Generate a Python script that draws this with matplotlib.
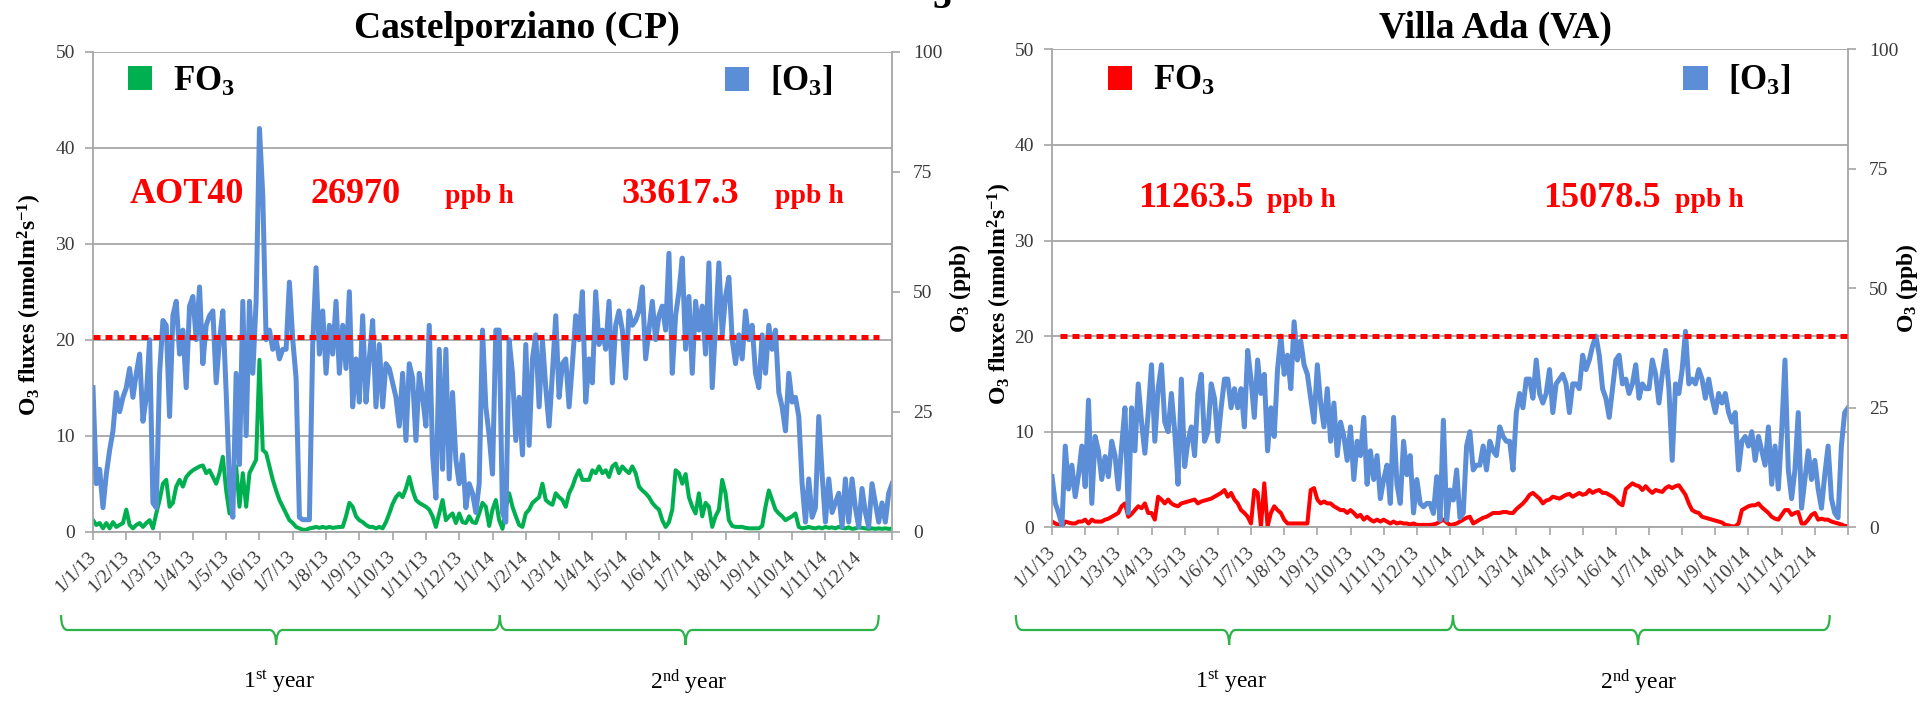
import numpy as np
import matplotlib
matplotlib.use("Agg")
import matplotlib.pyplot as plt
import matplotlib.transforms as mtransforms
from matplotlib.patches import Patch, PathPatch
from matplotlib.path import Path

plt.rcParams['font.family'] = ['Liberation Serif', 'DejaVu Serif']
plt.rcParams['mathtext.fontset'] = 'custom'
plt.rcParams['mathtext.rm'] = 'Liberation Serif'
plt.rcParams['mathtext.it'] = 'Liberation Serif:italic'
plt.rcParams['mathtext.bf'] = 'Liberation Serif:bold'

# ---------------- data ----------------
month_labels = ["1/1/13", "1/2/13", "1/3/13", "1/4/13", "1/5/13", "1/6/13",
                "1/7/13", "1/8/13", "1/9/13", "1/10/13", "1/11/13", "1/12/13",
                "1/1/14", "1/2/14", "1/3/14", "1/4/14", "1/5/14", "1/6/14",
                "1/7/14", "1/8/14", "1/9/14", "1/10/14", "1/11/14", "1/12/14"]
sample_step_months = 0.1   # one sample every ~3 days

# Castelporziano: ozone concentration (ppb, right axis)
cp_o3_ppb = [
    30, 10, 13, 5, 12, 17, 21, 29, 25, 28,
    30, 34, 28, 33, 37, 23, 28, 40, 6, 5,
    33, 44, 43, 24, 45, 48, 37, 42, 30, 47,
    49, 40, 51, 35, 43, 45, 46, 31, 40, 46,
    29, 10, 3, 33, 14, 48, 20, 48, 33, 48,
    84, 70, 40, 42, 38, 40, 36, 38, 38, 52,
    40, 32, 3, 2.5, 2.5, 2.5, 39, 55, 37, 46,
    33, 43, 37, 48, 33, 43, 34, 50, 26, 36,
    27, 45, 27, 36, 44, 26, 39, 26, 35, 34,
    31, 28, 22, 33, 19, 35, 32, 19, 33, 28,
    22, 43, 16, 7, 38, 13, 38, 11, 29, 15,
    10, 16, 5, 10, 8, 4, 10, 42, 26, 20,
    12, 42, 42, 4, 2, 40, 33, 19, 28, 16,
    39, 18, 36, 41, 26, 40, 30, 22, 33, 45,
    28, 35, 36, 26, 35, 45, 40, 50, 27, 36,
    31, 50, 39, 42, 38, 48, 31, 43, 46, 42,
    32, 46, 43, 44, 46, 51, 36, 42, 48, 40,
    45, 47, 42, 58, 33, 45, 50, 57, 38, 49,
    33, 48, 42, 47, 37, 56, 30, 43, 56, 41,
    49, 53, 40, 35, 41, 36, 46, 40, 43, 33,
    30, 41, 33, 43, 38, 42, 29, 26, 21, 33,
    27, 28, 24, 10, 2, 11, 3, 5, 24, 12,
    2, 11, 4, 6, 8, 1, 11, 2, 11, 5,
    1, 9, 4, 1, 10, 6, 2, 6, 2, 8,
    10]

# Castelporziano: ozone flux (nmol m-2 s-1, left axis)
cp_fo3 = [
    1.2, 0.7, 0.9, 0.35, 0.9, 0.35, 1.0, 0.5, 0.7, 0.9,
    2.3, 0.7, 0.35, 0.7, 0.9, 0.5, 0.9, 1.2, 0.35, 1.9,
    3.3, 5.0, 5.4, 2.6, 3.0, 4.7, 5.4, 4.7, 5.7, 6.1,
    6.4, 6.6, 6.8, 6.9, 6.1, 6.4, 5.7, 5.0, 6.1, 7.8,
    4.3, 1.9, 6.1, 6.8, 2.6, 6.1, 2.6, 6.1, 6.8, 7.5,
    17.9, 8.5, 8.2, 6.8, 5.4, 4.3, 3.3, 2.6, 1.9, 1.2,
    0.9, 0.5, 0.35, 0.2, 0.2, 0.35, 0.4, 0.5, 0.4, 0.5,
    0.4, 0.5, 0.4, 0.45, 0.5, 0.5, 1.6, 3.0, 2.6, 1.6,
    1.2, 1.0, 0.7, 0.5, 0.5, 0.35, 0.5, 0.35, 1.0, 1.9,
    2.9, 3.6, 4.0, 3.6, 4.5, 5.7, 4.3, 3.3, 3.0, 2.8,
    2.6, 2.3, 1.6, 0.5, 1.9, 3.3, 1.2, 1.6, 1.9, 0.9,
    1.9, 1.0, 0.9, 1.6, 1.0, 0.9, 1.9, 3.0, 2.6, 0.6,
    2.3, 3.3, 1.2, 0.3, 2.5, 4.0, 2.6, 1.6, 0.7, 0.5,
    1.9, 2.3, 3.0, 3.3, 3.6, 5.0, 3.3, 3.0, 2.8, 4.0,
    3.6, 3.3, 2.6, 4.0, 4.7, 5.7, 6.4, 5.4, 5.4, 5.4,
    6.4, 6.1, 6.8, 6.1, 6.4, 5.7, 6.8, 7.1, 6.1, 6.8,
    6.4, 6.1, 6.8, 6.1, 4.7, 4.3, 4.0, 3.6, 3.0, 2.6,
    2.3, 1.2, 0.5, 1.0, 2.3, 6.4, 6.1, 5.0, 6.0, 3.6,
    2.6, 1.9, 4.0, 1.6, 3.0, 2.6, 0.5, 1.6, 2.3, 5.4,
    4.0, 1.2, 0.6, 0.5, 0.5, 0.5, 0.4, 0.35, 0.35, 0.35,
    0.35, 0.6, 2.6, 4.3, 3.3, 2.3, 1.9, 1.6, 1.2, 1.4,
    1.6, 1.9, 0.5, 0.35, 0.4, 0.5, 0.4, 0.35, 0.45, 0.35,
    0.5, 0.4, 0.45, 0.35, 0.5, 0.4, 0.35, 0.45, 0.3, 0.35,
    0.45, 0.4, 0.35, 0.3, 0.35, 0.3, 0.35, 0.3, 0.35, 0.3,
    0.3]

# Villa Ada: ozone concentration (ppb, right axis)
va_o3_ppb = [
    10.6, 5, 3, 0.5, 17, 8, 13, 6.4, 11, 17,
    8.5, 26.6, 5, 19, 16, 10, 14.8, 10.6, 18, 15,
    8, 17, 25, 3, 25, 16, 30, 22, 15.5, 24,
    34, 18, 29, 34, 22, 20, 28, 20, 9, 31,
    12.7, 18, 21, 15, 28, 32, 18, 20, 30, 27,
    18, 25, 31, 31, 25, 29, 25, 29, 21, 37,
    31, 23, 35, 28, 32, 16, 25, 19, 33, 40,
    32, 36, 29, 43, 35, 39, 34, 32, 27, 22,
    34, 26, 21, 29, 18, 26, 15, 22, 19, 14,
    21, 10, 18, 15, 23, 9, 16, 10, 15, 6,
    10, 13, 5, 23, 9, 5, 18, 11, 15, 3,
    10, 5, 4.3, 5, 5, 2.9, 10.6, 1.5, 22.4, 1.5,
    7.8, 5.7, 12, 2, 3, 17, 20, 12, 13, 13,
    17, 12, 18, 16, 15, 21, 19, 18, 18, 12,
    24, 28, 25, 31, 31, 27, 35, 28, 26, 28,
    33, 24, 30, 31, 32, 30, 24, 30, 30, 29,
    36, 33, 35, 38, 40, 36, 29, 27, 23, 29,
    35, 36, 30, 31, 28, 30, 34, 27, 30, 29,
    29, 35, 32, 26, 32, 37, 29, 14, 30, 28,
    33, 41, 30, 31, 30, 33, 31, 27, 31, 27,
    24, 28, 26, 28, 24, 22, 24, 12, 18, 19,
    17, 20, 14, 19, 16, 13, 21, 9, 17, 8,
    20, 35, 12, 6, 12, 24, 4, 10, 16, 10,
    14, 8, 4, 11, 17, 6, 3, 2, 17, 24,
    25]

# Villa Ada: ozone flux (nmol m-2 s-1, left axis)
va_fo3 = [
    0.6, 0.4, 0.25, 0.05, 0.6, 0.5, 0.4, 0.4, 0.6, 0.6,
    0.8, 0.4, 0.8, 0.6, 0.6, 0.6, 0.8, 0.9, 1.1, 1.3,
    1.5, 2.2, 2.5, 1.1, 1.4, 1.8, 2.2, 2.0, 2.5, 1.5,
    1.5, 0.8, 3.2, 2.9, 2.5, 2.9, 2.5, 2.3, 2.2, 2.5,
    2.6, 2.7, 2.8, 2.9, 2.5, 2.7, 2.8, 2.9, 3.0, 3.2,
    3.4, 3.6, 3.9, 3.2, 3.6, 2.9, 2.5, 1.8, 1.5, 1.1,
    0.4, 3.9, 3.6, 0.1, 4.6, 0.1, 1.5, 2.2, 1.8, 1.5,
    0.8, 0.4, 0.4, 0.4, 0.4, 0.4, 0.4, 0.4, 3.9, 4.1,
    2.9, 2.5, 2.7, 2.5, 2.5, 2.2, 2.0, 1.8, 1.8, 1.5,
    1.8, 1.5, 1.1, 1.3, 0.8, 1.1, 0.8, 0.6, 0.8, 0.6,
    0.8, 0.6, 0.4, 0.6, 0.4, 0.5, 0.4, 0.4, 0.3, 0.4,
    0.25, 0.25, 0.25, 0.25, 0.25, 0.3, 0.4, 0.6, 0.8, 0.5,
    0.25, 0.3, 0.4, 0.6, 0.8, 1.0, 1.1, 0.4, 0.6, 0.8,
    1.0, 1.1, 1.3, 1.5, 1.5, 1.5, 1.6, 1.6, 1.5, 1.5,
    1.9, 2.2, 2.5, 2.9, 3.4, 3.6, 3.3, 3.0, 2.5, 2.8,
    2.9, 3.2, 3.1, 3.0, 3.2, 3.4, 3.5, 3.2, 3.4, 3.6,
    3.4, 3.5, 3.9, 3.6, 3.8, 3.9, 3.6, 3.6, 3.4, 3.2,
    2.9, 2.5, 2.3, 4.0, 4.3, 4.6, 4.4, 4.3, 3.9, 4.3,
    3.9, 3.6, 3.9, 3.8, 3.7, 4.1, 4.3, 4.1, 4.3, 4.4,
    3.9, 3.4, 2.5, 1.8, 1.6, 1.5, 1.1, 1.0, 0.9, 0.8,
    0.7, 0.6, 0.5, 0.25, 0.2, 0.1, 0.1, 0.4, 1.8, 2.0,
    2.2, 2.3, 2.3, 2.5, 2.1, 1.8, 1.5, 1.1, 0.9, 0.8,
    1.3, 1.8, 1.8, 1.3, 1.5, 1.6, 0.4, 0.4, 0.8, 1.3,
    1.5, 0.8, 0.9, 0.8, 0.8, 0.6, 0.5, 0.4, 0.3, 0.15,
    0.1]

aot40_cp = ["AOT40", "26970", "33617.3"]
aot40_va = ["11263.5", "15078.5"]
threshold_cp_ppb = 40.6
threshold_va_ppb = 40.0
threshold_cp_span = (0.0, 23.6)
threshold_va_span = (0.25, 24.0)

# ---------------- style ----------------
BLUE = '#5B8ED6'
GREEN = '#00B050'
RED = '#FF0000'
GRID = '#A6A6A6'
BRACE = '#2DB34A'
TICKLBL = '#3A3A3A'

W, H = 1928, 704
fig = plt.figure(figsize=(W / 100, H / 100), dpi=100)


def fx(px):
    return px / W


def fy(py):
    return 1 - py / H


def make_panel(left, right, top, bottom):
    ax = fig.add_axes([fx(left), fy(bottom), fx(right - left), (bottom - top) / H])
    ax.set_xlim(0, 24)
    ax.set_ylim(0, 50)
    ax.set_yticks(range(0, 51, 10))
    ax.grid(axis='y', color=GRID, lw=1.3)
    ax.grid(axis='x', visible=False)
    ax.set_axisbelow(True)
    for s in ['top', 'right']:
        ax.spines[s].set_visible(False)
    for s in ['left', 'bottom']:
        ax.spines[s].set_color(GRID)
        ax.spines[s].set_linewidth(1.3)
    ax.set_xticks(range(25))
    ax.set_xticklabels(month_labels + [''])
    for lbl in ax.get_xticklabels():
        lbl.set_rotation(45)
        lbl.set_ha('right')
        lbl.set_va('center')
        lbl.set_rotation_mode('anchor')
    ax.tick_params(axis='x', direction='out', length=6, width=1.2, color=GRID,
                   labelsize=14, labelcolor=TICKLBL, pad=10)
    ax.tick_params(axis='y', direction='out', length=6, width=1.2, color=GRID,
                   labelsize=14, labelcolor=TICKLBL, pad=7)
    tw = ax.twinx()
    tw.set_ylim(0, 100)
    tw.set_yticks([0, 25, 50, 75, 100])
    for s in ['top', 'left', 'bottom']:
        tw.spines[s].set_visible(False)
    tw.spines['right'].set_color(GRID)
    tw.spines['right'].set_linewidth(1.3)
    tw.tick_params(axis='y', direction='out', length=6, width=1.2, color=GRID,
                   labelsize=14, labelcolor=TICKLBL, pad=9)
    return ax, tw


def brace(ax, x0, x1, xm, r):
    ytop, yline, ypt = fy(615), fy(630), fy(645)
    verts = [(x0, ytop), (x0, yline), (x0 + r, yline),
             (xm - r, yline), (xm, yline), (xm, ypt),
             (xm, yline), (xm + r, yline),
             (x1 - r, yline), (x1, yline), (x1, ytop)]
    codes = [Path.MOVETO, Path.CURVE3, Path.CURVE3,
             Path.LINETO, Path.CURVE3, Path.CURVE3,
             Path.CURVE3, Path.CURVE3,
             Path.LINETO, Path.CURVE3, Path.CURVE3]
    tr = mtransforms.blended_transform_factory(ax.transData, fig.transFigure)
    p = PathPatch(Path(verts, codes), transform=tr, fill=False,
                  edgecolor=BRACE, lw=1.6, clip_on=False)
    fig.add_artist(p)


def year_text(ax, x, first):
    tr = mtransforms.blended_transform_factory(ax.transData, fig.transFigure)
    s = r"1$^{\mathrm{st}}$ year" if first else r"2$^{\mathrm{nd}}$ year"
    ax.text(x, fy(682), s, transform=tr, ha='center', va='center',
            fontsize=17, clip_on=False)


def legend_pair(ax, tw, color_f, xf, xo, y):
    lp = dict(frameon=False, loc='center left', borderpad=0, borderaxespad=0,
              handlelength=0.7, handleheight=0.7, handletextpad=0.6,
              prop={'weight': 'bold', 'size': 25})
    l1 = tw.legend(handles=[Patch(facecolor=color_f, edgecolor='none',
                                  label=r"FO$_\mathbf{3}$")],
                   bbox_to_anchor=(xf, y), **lp)
    tw.add_artist(l1)
    tw.legend(handles=[Patch(facecolor=BLUE, edgecolor='none',
                             label=r"[O$_\mathbf{3}$]")],
              bbox_to_anchor=(xo, y), **lp)


ylab_flux = r"O$_\mathbf{3}$ fluxes (nmolm$^\mathbf{2}$s$^\mathbf{-1}$)"
ylab_conc = r"O$_\mathbf{3}$ (ppb)"

# ---------------- Castelporziano ----------------
ax1, tw1 = make_panel(93, 892, 51.7, 531.7)
x_cp = np.arange(len(cp_o3_ppb)) * sample_step_months
ax1.plot(x_cp, cp_fo3, color=GREEN, lw=2.9, solid_joinstyle='round')
tw1.plot(x_cp, cp_o3_ppb, color=BLUE, lw=3.6, solid_joinstyle='round')
tw1.hlines(threshold_cp_ppb, *threshold_cp_span, colors=RED, lw=3.6,
           linestyles=(0, (1.4, 1.0)), zorder=5)
legend_pair(ax1, tw1, GREEN, 0.044, 0.791, 0.937)
tr1 = ax1.transAxes
ax1.text(0.046, 0.685, aot40_cp[0], transform=tr1, color=RED, fontsize=26,
         fontweight='bold', va='baseline')
ax1.text(0.272, 0.685, aot40_cp[1], transform=tr1, color=RED, fontsize=26,
         fontweight='bold', va='baseline')
ax1.text(0.441, 0.685, "ppb h", transform=tr1, color=RED, fontsize=20,
         fontweight='bold', va='baseline')
ax1.text(0.662, 0.685, aot40_cp[2], transform=tr1, color=RED, fontsize=26,
         fontweight='bold', va='baseline')
ax1.text(0.854, 0.685, "ppb h", transform=tr1, color=RED, fontsize=20,
         fontweight='bold', va='baseline')
ax1.text(-0.0789, 0.472, ylab_flux, transform=tr1, rotation=90, ha='center',
         va='center', fontsize=17, fontweight='bold')
ax1.text(1.085, 0.508, ylab_conc, transform=tr1, rotation=90, ha='center',
         va='center', fontsize=17, fontweight='bold')
fig.text(fx(517), fy(28), "Castelporziano (CP)", ha='center', va='center',
         fontsize=27, fontweight='bold')
brace(ax1, -0.96, 12.22, 5.5, 0.2)
brace(ax1, 12.22, 23.6, 17.8, 0.2)
year_text(ax1, 5.6, True)
year_text(ax1, 17.9, False)

# ---------------- Villa Ada ----------------
ax2, tw2 = make_panel(1052, 1848, 49.3, 527.3)
x_va = np.arange(len(va_o3_ppb)) * sample_step_months
ax2.plot(x_va, va_fo3, color=RED, lw=2.9, solid_joinstyle='round')
tw2.plot(x_va, va_o3_ppb, color=BLUE, lw=3.6, solid_joinstyle='round')
tw2.hlines(threshold_va_ppb, *threshold_va_span, colors=RED, lw=3.6,
           linestyles=(0, (1.4, 1.0)), zorder=5)
legend_pair(ax2, tw2, RED, 0.070, 0.793, 0.933)
tr2 = ax2.transAxes
ax2.text(0.108, 0.670, aot40_va[0], transform=tr2, color=RED, fontsize=26,
         fontweight='bold', va='baseline')
ax2.text(0.270, 0.670, "ppb h", transform=tr2, color=RED, fontsize=20,
         fontweight='bold', va='baseline')
ax2.text(0.617, 0.670, aot40_va[1], transform=tr2, color=RED, fontsize=26,
         fontweight='bold', va='baseline')
ax2.text(0.783, 0.670, "ppb h", transform=tr2, color=RED, fontsize=20,
         fontweight='bold', va='baseline')
ax2.text(-0.0653, 0.488, ylab_flux, transform=tr2, rotation=90, ha='center',
         va='center', fontsize=17, fontweight='bold')
ax2.text(1.074, 0.50, ylab_conc, transform=tr2, rotation=90, ha='center',
         va='center', fontsize=17, fontweight='bold')
fig.text(fx(1495), fy(28), "Villa Ada (VA)", ha='center', va='center',
         fontsize=27, fontweight='bold')
brace(ax2, -1.09, 12.09, 5.34, 0.2)
brace(ax2, 12.09, 23.45, 17.67, 0.2)
year_text(ax2, 5.4, True)
year_text(ax2, 17.7, False)

# cut-off glyph at the very top of the image (part of a cropped heading,
# it is cropped the same way in the source image)
fig.text(fx(942), fy(8), "3", ha='center', va='baseline', fontsize=27,
         fontweight='bold')

fig.savefig("out.png", dpi=100)
